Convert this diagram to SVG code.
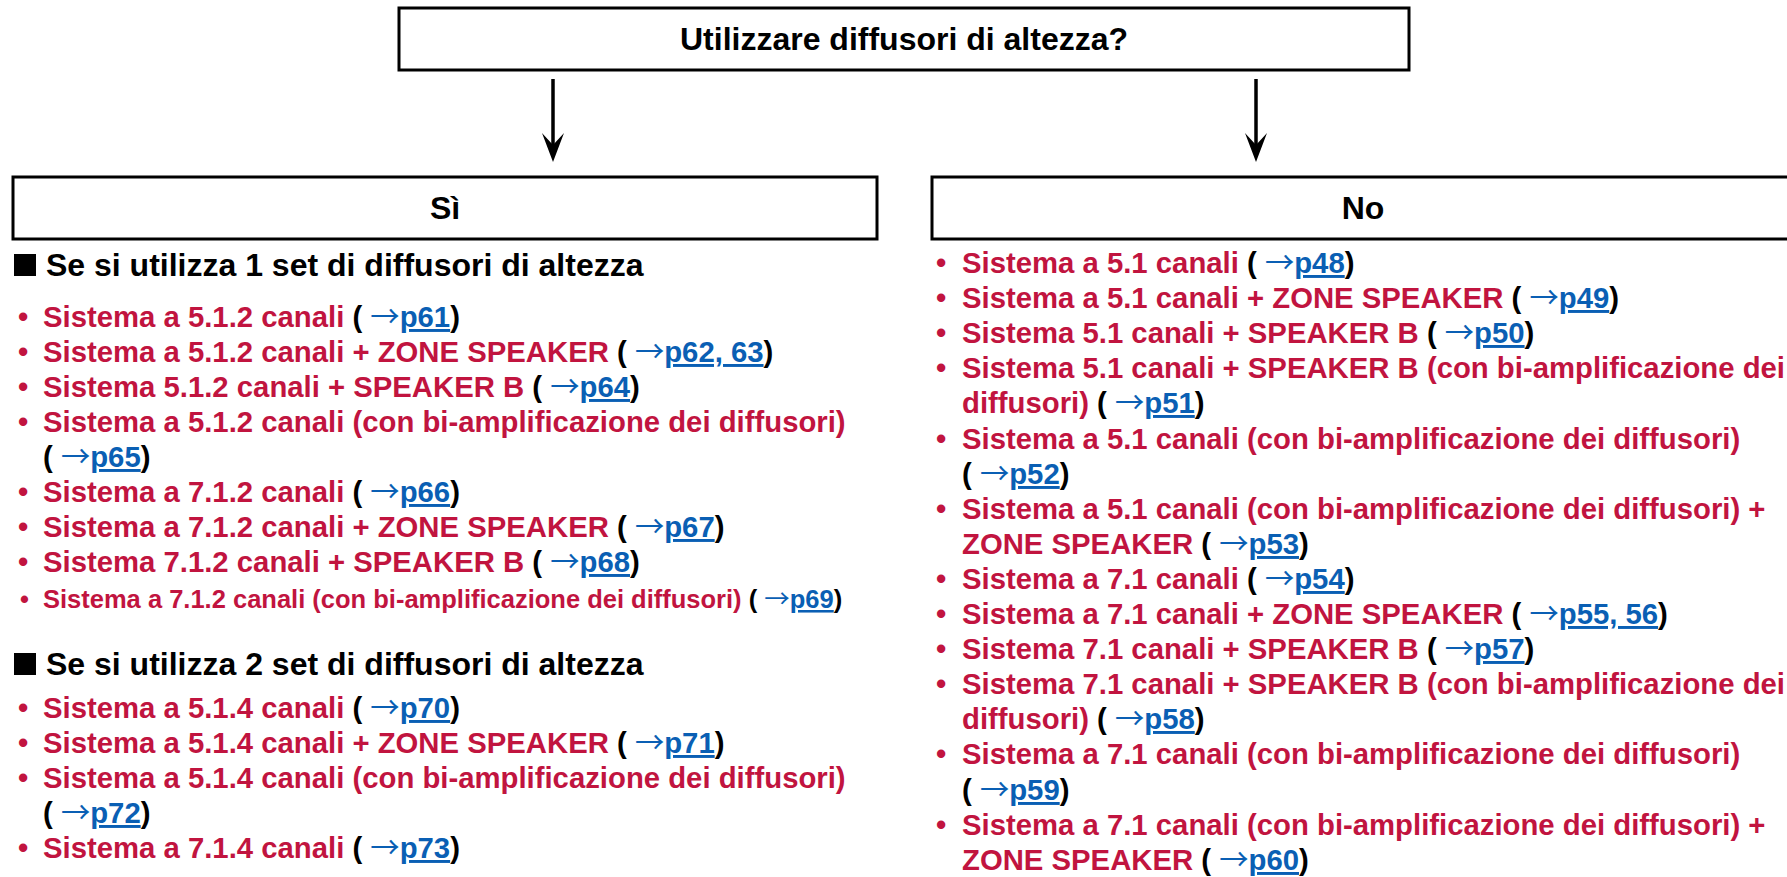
<svg xmlns="http://www.w3.org/2000/svg" width="1787" height="877" viewBox="0 0 1787 877">
<defs>
<style>
.box{fill:#fff;stroke:#000;stroke-width:3}
.t{font-family:"Liberation Sans",Arial,sans-serif;font-weight:bold}
.h{font-size:32px;fill:#000}
.li{font-size:29.3px;fill:#C1143F}
.sm{font-size:25.5px}
.k{fill:#000}
.b{fill:#0A5FB4}
.ar{font-family:"Noto Sans CJK JP","Noto Sans CJK SC","DejaVu Sans",sans-serif;font-weight:normal}
.u{text-decoration:underline}
.conn{stroke:#000;stroke-width:3.5;fill:none}
</style>
</defs>
<rect width="1787" height="877" fill="#fff"/>

<g id="connectors">
<line class="conn" x1="553" y1="79" x2="553" y2="150"/>
<path d="M542,133 L553,162 L564,133 L553,145 Z" fill="#000"/>
<line class="conn" x1="1256" y1="79" x2="1256" y2="150"/>
<path d="M1245,133 L1256,162 L1267,133 L1256,145 Z" fill="#000"/>
</g>

<g id="node-question">
<rect class="box" x="399" y="8" width="1010" height="62"/>
<text class="t h" x="904" y="50" text-anchor="middle">Utilizzare diffusori di altezza?</text>
</g>

<g id="node-si">
<rect class="box" x="13" y="177" width="864" height="62"/>
<text class="t h" x="445" y="219" text-anchor="middle">Sì</text>
</g>

<g id="node-no">
<rect class="box" x="932" y="177" width="864" height="62"/>
<text class="t h" x="1363" y="219" text-anchor="middle">No</text>
</g>

<g id="list-si">
<rect x="14" y="254" width="22" height="22" fill="#000"/>
<text class="t h" x="46" y="276">Se si utilizza 1 set di diffusori di altezza</text>
<text class="t li" x="18" y="327">•<tspan x="43">Sistema a 5.1.2 canali </tspan><tspan class="k">( </tspan><tspan class="b ar">→</tspan><tspan class="b u">p61</tspan><tspan class="k">)</tspan></text>
<text class="t li" x="18" y="362">•<tspan x="43">Sistema a 5.1.2 canali + ZONE SPEAKER </tspan><tspan class="k">( </tspan><tspan class="b ar">→</tspan><tspan class="b u">p62, 63</tspan><tspan class="k">)</tspan></text>
<text class="t li" x="18" y="397">•<tspan x="43">Sistema 5.1.2 canali + SPEAKER B </tspan><tspan class="k">( </tspan><tspan class="b ar">→</tspan><tspan class="b u">p64</tspan><tspan class="k">)</tspan></text>
<text class="t li" x="18" y="432">•<tspan x="43">Sistema a 5.1.2 canali (con bi-amplificazione dei diffusori)</tspan></text>
<text class="t li" x="43" y="467"><tspan class="k">( </tspan><tspan class="b ar">→</tspan><tspan class="b u">p65</tspan><tspan class="k">)</tspan></text>
<text class="t li" x="18" y="502">•<tspan x="43">Sistema a 7.1.2 canali </tspan><tspan class="k">( </tspan><tspan class="b ar">→</tspan><tspan class="b u">p66</tspan><tspan class="k">)</tspan></text>
<text class="t li" x="18" y="537">•<tspan x="43">Sistema a 7.1.2 canali + ZONE SPEAKER </tspan><tspan class="k">( </tspan><tspan class="b ar">→</tspan><tspan class="b u">p67</tspan><tspan class="k">)</tspan></text>
<text class="t li" x="18" y="572">•<tspan x="43">Sistema 7.1.2 canali + SPEAKER B </tspan><tspan class="k">( </tspan><tspan class="b ar">→</tspan><tspan class="b u">p68</tspan><tspan class="k">)</tspan></text>
<text class="t li sm" x="20" y="608">•<tspan x="43">Sistema a 7.1.2 canali (con bi-amplificazione dei diffusori) </tspan><tspan class="k">( </tspan><tspan class="b ar">→</tspan><tspan class="b u">p69</tspan><tspan class="k">)</tspan></text>
<rect x="14" y="653" width="22" height="22" fill="#000"/>
<text class="t h" x="46" y="675">Se si utilizza 2 set di diffusori di altezza</text>
<text class="t li" x="18" y="718">•<tspan x="43">Sistema a 5.1.4 canali </tspan><tspan class="k">( </tspan><tspan class="b ar">→</tspan><tspan class="b u">p70</tspan><tspan class="k">)</tspan></text>
<text class="t li" x="18" y="753">•<tspan x="43">Sistema a 5.1.4 canali + ZONE SPEAKER </tspan><tspan class="k">( </tspan><tspan class="b ar">→</tspan><tspan class="b u">p71</tspan><tspan class="k">)</tspan></text>
<text class="t li" x="18" y="788">•<tspan x="43">Sistema a 5.1.4 canali (con bi-amplificazione dei diffusori)</tspan></text>
<text class="t li" x="43" y="823"><tspan class="k">( </tspan><tspan class="b ar">→</tspan><tspan class="b u">p72</tspan><tspan class="k">)</tspan></text>
<text class="t li" x="18" y="858">•<tspan x="43">Sistema a 7.1.4 canali </tspan><tspan class="k">( </tspan><tspan class="b ar">→</tspan><tspan class="b u">p73</tspan><tspan class="k">)</tspan></text>
</g>

<g id="list-no">
<text class="t li" x="936" y="273">•<tspan x="962">Sistema a 5.1 canali </tspan><tspan class="k">( </tspan><tspan class="b ar">→</tspan><tspan class="b u">p48</tspan><tspan class="k">)</tspan></text>
<text class="t li" x="936" y="308">•<tspan x="962">Sistema a 5.1 canali + ZONE SPEAKER </tspan><tspan class="k">( </tspan><tspan class="b ar">→</tspan><tspan class="b u">p49</tspan><tspan class="k">)</tspan></text>
<text class="t li" x="936" y="343">•<tspan x="962">Sistema 5.1 canali + SPEAKER B </tspan><tspan class="k">( </tspan><tspan class="b ar">→</tspan><tspan class="b u">p50</tspan><tspan class="k">)</tspan></text>
<text class="t li" x="936" y="378">•<tspan x="962">Sistema 5.1 canali + SPEAKER B (con bi-amplificazione dei</tspan></text>
<text class="t li" x="962" y="413">diffusori) <tspan class="k">( </tspan><tspan class="b ar">→</tspan><tspan class="b u">p51</tspan><tspan class="k">)</tspan></text>
<text class="t li" x="936" y="449">•<tspan x="962">Sistema a 5.1 canali (con bi-amplificazione dei diffusori)</tspan></text>
<text class="t li" x="962" y="484"><tspan class="k">( </tspan><tspan class="b ar">→</tspan><tspan class="b u">p52</tspan><tspan class="k">)</tspan></text>
<text class="t li" x="936" y="519">•<tspan x="962">Sistema a 5.1 canali (con bi-amplificazione dei diffusori) +</tspan></text>
<text class="t li" x="962" y="554">ZONE SPEAKER <tspan class="k">( </tspan><tspan class="b ar">→</tspan><tspan class="b u">p53</tspan><tspan class="k">)</tspan></text>
<text class="t li" x="936" y="589">•<tspan x="962">Sistema a 7.1 canali </tspan><tspan class="k">( </tspan><tspan class="b ar">→</tspan><tspan class="b u">p54</tspan><tspan class="k">)</tspan></text>
<text class="t li" x="936" y="624">•<tspan x="962">Sistema a 7.1 canali + ZONE SPEAKER </tspan><tspan class="k">( </tspan><tspan class="b ar">→</tspan><tspan class="b u">p55, 56</tspan><tspan class="k">)</tspan></text>
<text class="t li" x="936" y="659">•<tspan x="962">Sistema 7.1 canali + SPEAKER B </tspan><tspan class="k">( </tspan><tspan class="b ar">→</tspan><tspan class="b u">p57</tspan><tspan class="k">)</tspan></text>
<text class="t li" x="936" y="694">•<tspan x="962">Sistema 7.1 canali + SPEAKER B (con bi-amplificazione dei</tspan></text>
<text class="t li" x="962" y="729">diffusori) <tspan class="k">( </tspan><tspan class="b ar">→</tspan><tspan class="b u">p58</tspan><tspan class="k">)</tspan></text>
<text class="t li" x="936" y="764">•<tspan x="962">Sistema a 7.1 canali (con bi-amplificazione dei diffusori)</tspan></text>
<text class="t li" x="962" y="800"><tspan class="k">( </tspan><tspan class="b ar">→</tspan><tspan class="b u">p59</tspan><tspan class="k">)</tspan></text>
<text class="t li" x="936" y="835">•<tspan x="962">Sistema a 7.1 canali (con bi-amplificazione dei diffusori) +</tspan></text>
<text class="t li" x="962" y="870">ZONE SPEAKER <tspan class="k">( </tspan><tspan class="b ar">→</tspan><tspan class="b u">p60</tspan><tspan class="k">)</tspan></text>
</g>
</svg>
